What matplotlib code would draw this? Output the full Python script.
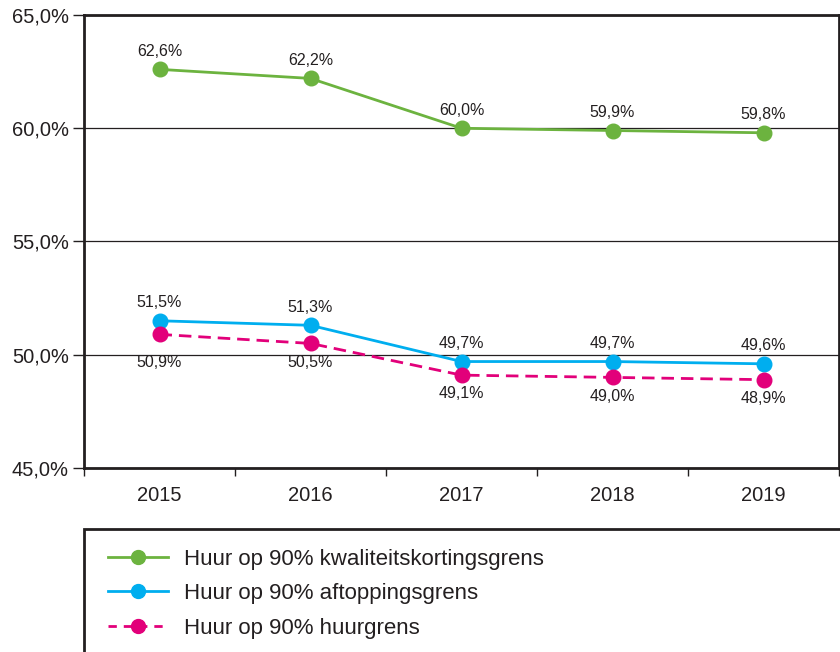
import matplotlib
matplotlib.use("Agg")
import matplotlib.pyplot as plt
from matplotlib.patches import Rectangle
from matplotlib.lines import Line2D

plt.rcParams['font.family'] = ['Liberation Sans', 'DejaVu Sans']

years = ['2015', '2016', '2017', '2018', '2019']
kwaliteit = [62.6, 62.2, 60.0, 59.9, 59.8]
aftopping = [51.5, 51.3, 49.7, 49.7, 49.6]
huurgrens = [50.9, 50.5, 49.1, 49.0, 48.9]

labels = ['Huur op 90% kwaliteitskortingsgrens',
          'Huur op 90% aftoppingsgrens',
          'Huur op 90% huurgrens']
green, blue, pink = '#6cb33f', '#00aeef', '#e2007a'
dark = '#231f20'

def pct(v):
    return f"{v:.1f}%".replace('.', ',')

fig = plt.figure(figsize=(8.4, 6.52), dpi=100)
ax = fig.add_axes([84 / 840, 1 - 468 / 652, 755 / 840, 453 / 652])

x = list(range(len(years)))
lw, ms = 2.0, 10.5
ax.plot(x, kwaliteit, color=green, lw=lw, marker='o', ms=ms, zorder=3)
ax.plot(x, aftopping, color=blue, lw=lw, marker='o', ms=ms, zorder=3)
ax.plot(x, huurgrens, color=pink, lw=lw, marker='o', ms=ms,
        ls=(0, (4.5, 2.5)), zorder=4)

for xi, v in zip(x, kwaliteit):
    ax.annotate(pct(v), (xi, v), xytext=(0, 13), textcoords='offset points',
                ha='center', va='center', fontsize=11.5, color=dark)
for xi, v in zip(x, aftopping):
    ax.annotate(pct(v), (xi, v), xytext=(0, 13), textcoords='offset points',
                ha='center', va='center', fontsize=11.5, color=dark)
# first pink label sits lower, level with the 2016 one
pink_dy = [-20, -13.5, -13.5, -13.5, -13.5]
for xi, v, dy in zip(x, huurgrens, pink_dy):
    ax.annotate(pct(v), (xi, v), xytext=(0, dy), textcoords='offset points',
                ha='center', va='center', fontsize=11.5, color=dark)

ax.set_xlim(-0.5, 4.5)
ax.set_ylim(45, 65)
ax.set_yticks([45, 50, 55, 60, 65])
ax.set_yticklabels([pct(v) for v in [45, 50, 55, 60, 65]])
ax.set_xticks(x)
ax.set_xticklabels(years)
ax.set_xticks([i + 0.5 for i in range(-1, 5)], minor=True)
ax.tick_params(axis='x', which='major', length=0, pad=13, labelsize=14.5, colors=dark)
ax.tick_params(axis='x', which='minor', length=6, width=1, color=dark)
ax.tick_params(axis='y', length=8, width=1, pad=3, labelsize=14.5, colors=dark)
ax.grid(axis='y', color=dark, lw=0.9)
for s in ax.spines.values():
    s.set_color(dark)
    s.set_linewidth(2)

# legend box (bottom edge runs off the figure)
fig.patches.append(Rectangle((84 / 840, -0.05), 760 / 840, 0.05 + (652 - 529) / 652,
                             transform=fig.transFigure, fill=False,
                             edgecolor=dark, lw=2, clip_on=False))
handles = [Line2D([], [], color=green, lw=lw, marker='o', ms=10),
           Line2D([], [], color=blue, lw=lw, marker='o', ms=10),
           Line2D([], [], color=pink, lw=lw, marker='o', ms=10, ls=(0, (3, 2.5)))]
fig.legend(handles, labels, loc='upper left',
           bbox_to_anchor=(99 / 840, 1 - 540 / 652), frameon=False,
           fontsize=16, handlelength=2.7, handletextpad=0.72,
           labelspacing=0.6, borderaxespad=0, labelcolor=dark)

fig.savefig('out.png', dpi=100)
